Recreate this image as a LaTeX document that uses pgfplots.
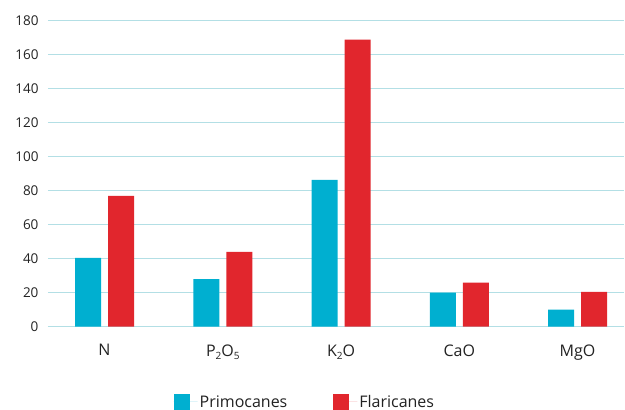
\documentclass[border=0pt]{standalone}
\usepackage{fontspec}
\setmainfont{Open Sans}
\usepackage{pgfplots}
\pgfplotsset{compat=1.18}
\definecolor{prim}{HTML}{00AFD0}
\definecolor{flar}{HTML}{E1262D}
\definecolor{gridc}{HTML}{B3DFE5}
\definecolor{txt}{HTML}{222222}
\newcommand{\sub}[1]{\raisebox{-3.5pt}{\fontsize{10}{10}\selectfont #1}}
\begin{document}
\begin{tikzpicture}
\useasboundingbox (0,0) rectangle (625pt,410pt);
\begin{axis}[
    at={(48pt,83.3pt)}, anchor=south west,
    scale only axis,
    width=576pt, height=305.7pt,
    ybar=7pt, bar width=26pt,
    ymin=0, ymax=180,
    xmin=-0.478, xmax=4.393,
    ytick={0,20,...,180},
    xtick={0,1,2,3,4},
    xticklabels={N, P\sub{2}O\sub{5}, K\sub{2}O, CaO, MgO},
    axis x line*=bottom, axis y line*=left,
    y axis line style={draw=none},
    x axis line style={draw=gridc, line width=1pt, -},
    tick style={draw=none},
    ymajorgrids,
    grid style={draw=gridc, line width=1pt},
    /pgf/number format/assume math mode=true,
    yticklabel style={font=\fontsize{13.5}{15}\selectfont, text=txt, xshift=-6pt},
    xticklabel style={font=\fontsize{16}{18}\selectfont, text=txt, yshift=-10pt},
    legend style={draw=none, at={(0.446,-0.246)}, anchor=center,
        font=\fontsize{16}{18}\selectfont, text=txt, legend columns=2,
        /tikz/every even column/.append style={column sep=44pt}},
    legend image code/.code={\fill[#1] (0pt,-8pt) rectangle (16pt,8pt); \path (0pt,0pt) -- (24pt,0pt);},
]
\addplot[fill=prim, draw=none] coordinates {(0,40.5) (1,28) (2,86.5) (3,20) (4,10)};
\addlegendentry{Primocanes}
\addplot[fill=flar, draw=none] coordinates {(0,77) (1,44) (2,169) (3,26) (4,20.5)};
\addlegendentry{Flaricanes}
\end{axis}
\end{tikzpicture}
\end{document}
